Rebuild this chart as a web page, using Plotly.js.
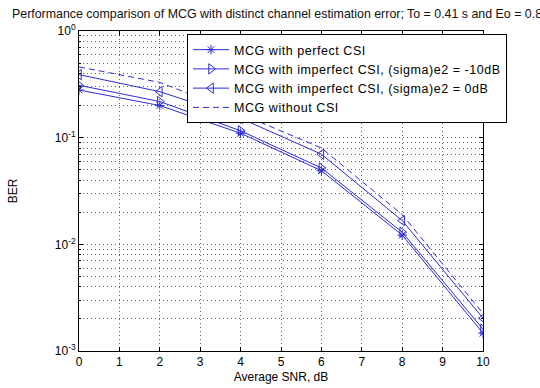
<!DOCTYPE html>
<html><head><meta charset="utf-8">
<script src="https://cdn.plot.ly/plotly-3.0.1.min.js"></script>
<style>body{margin:0;background:#fff}#c{width:540px;height:388px}.legendtext{letter-spacing:0.55px}</style>
</head><body><div id="c"></div>
<script>
var snr = [0, 2, 4, 6, 8, 10];
var berPerfect = [0.28, 0.20, 0.110, 0.049, 0.0122, 0.00147];
var berImp10 = [0.31, 0.218, 0.116, 0.052, 0.0130, 0.00160];
var berImp0 = [0.39, 0.27, 0.152, 0.070, 0.0167, 0.00203];
var berNoCSI = [0.46, 0.33, 0.167, 0.080, 0.0190, 0.00225];
var names = ['MCG with perfect CSI', 'MCG with imperfect CSI, (sigma)e2 = -10dB', 'MCG with imperfect CSI, (sigma)e2 = 0dB', 'MCG without CSI'];
var yTickVals = [1, 0.1, 0.01, 0.001];
var yTickText = ['10<sup>0</sup>', '10<sup>-1</sup>', '10<sup>-2</sup>', '10<sup>-3</sup>'];
var xTicks = [0,1,2,3,4,5,6,7,8,9,10];

var minorVals = [];
[0.001, 0.01, 0.1].forEach(function(d){ for (var k=2;k<=9;k++) minorVals.push(d*k); });

var col = 'rgb(45,45,215)';
var gcol = 'rgba(0,0,0,0.6)';
var traces = [
  {x: snr, y: berPerfect, name: names[0], mode: 'lines+markers', line: {color: col, width: 1}, marker: {symbol: 'asterisk-open', size: 8, color: col, line: {color: col, width: 1}}},
  {x: snr, y: berImp10, name: names[1], mode: 'lines+markers', line: {color: col, width: 1}, marker: {symbol: 'triangle-right-open', size: 9, color: col, line: {color: col, width: 1}}},
  {x: snr, y: berImp0, name: names[2], mode: 'lines+markers', line: {color: col, width: 1}, marker: {symbol: 'triangle-left-open', size: 9, color: col, line: {color: col, width: 1}}},
  {x: snr, y: berNoCSI, name: names[3], mode: 'lines', line: {color: col, width: 1, dash: '6px,4px'}}
];

var layout = {
  width: 540, height: 388,
  margin: {l: 79, r: 57, t: 31, b: 37},
  paper_bgcolor: '#fff', plot_bgcolor: '#fff',
  font: {family: 'Liberation Sans, Arial, sans-serif', size: 12, color: '#000'},
  title: {text: 'Performance comparison of MCG with distinct channel estimation error; To = 0.41 s and Eo = 0.8', x: 12/540, xanchor: 'left', xref: 'container', y: 1 - 18/388, yanchor: 'bottom', yref: 'container', font: {size: 12.4, color: '#111'}},
  xaxis: {
    range: [0, 10], tickvals: xTicks, ticks: 'inside', ticklen: 4, tickcolor: '#000',
    showline: true, linecolor: '#000', linewidth: 1, mirror: 'ticks',
    showgrid: true, gridcolor: gcol, griddash: '1px,3px', gridwidth: 1,
    zeroline: false,
    title: {text: 'Average SNR, dB', standoff: 4, font: {size: 12}}
  },
  yaxis: {
    type: 'log', range: [-3, 0], tickvals: yTickVals, ticktext: yTickText,
    ticks: 'inside', ticklen: 4, tickcolor: '#000',
    showline: true, linecolor: '#000', linewidth: 1, mirror: 'ticks',
    showgrid: true, gridcolor: gcol, griddash: '1px,3px', gridwidth: 1,
    zeroline: false,
    minor: {tickvals: minorVals, ticks: 'inside', ticklen: 2, tickcolor: '#000', showgrid: true, gridcolor: gcol, griddash: '1px,3px', gridwidth: 1},
    title: {text: 'BER', standoff: 34, font: {size: 12}}
  },
  legend: {x: 108/404, xanchor: 'left', y: 1 - 3/320, yanchor: 'top', bgcolor: '#fff', bordercolor: '#000', borderwidth: 1, font: {size: 12.5}, tracegroupgap: 0, itemwidth: 36},
  showlegend: true
};
Plotly.newPlot('c', traces, layout, {displayModeBar: false, staticPlot: true});
</script></body></html>
